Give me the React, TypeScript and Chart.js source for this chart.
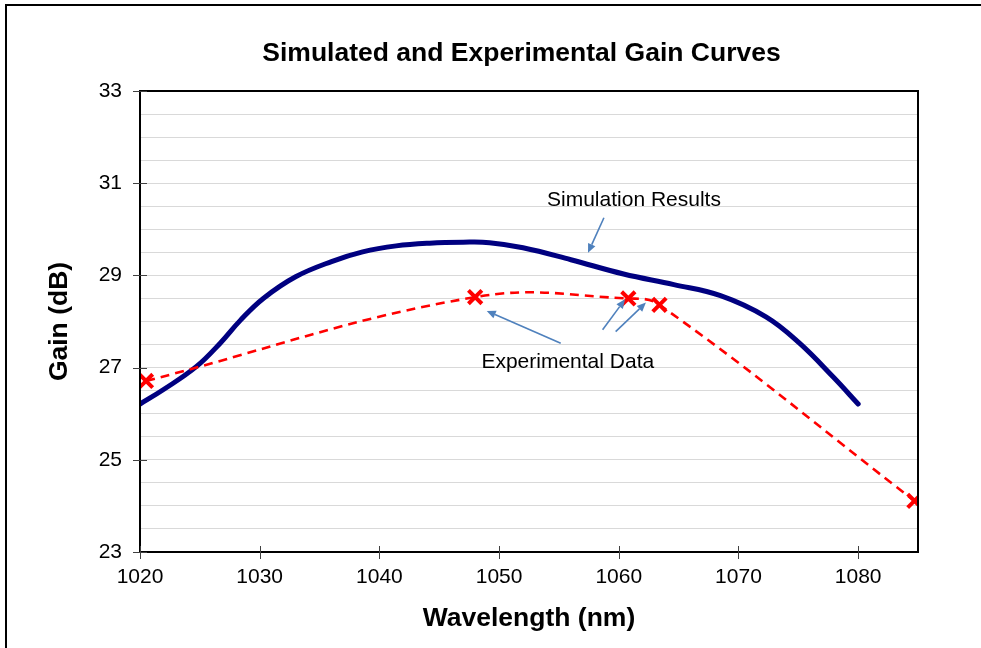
import React, { useEffect, useRef } from "react";
import { Chart, registerables } from "chart.js";

Chart.register(...registerables);

// ---- data ----
const simWavelength = [1020, 1022, 1024.7, 1026.7, 1028.4, 1030.3, 1033, 1036, 1038.6, 1041.4, 1044.2, 1047, 1049.2, 1052, 1056, 1060.4, 1064.6, 1068.5, 1072.3, 1075.1, 1077.9, 1080];
const simGain = [26.21, 26.53, 27.02, 27.53, 28.03, 28.5, 28.97, 29.3, 29.51, 29.64, 29.7, 29.72, 29.71, 29.6, 29.34, 29.03, 28.8, 28.56, 28.1, 27.53, 26.8, 26.21];

const expWavelength = [1020.5, 1048.0, 1060.8, 1063.4, 1084.7];
const expGain = [26.71, 28.53, 28.5, 28.36, 24.11];

const xTickValues = [1020, 1030, 1040, 1050, 1060, 1070, 1080];
const yLabelValues = [23, 25, 27, 29, 31, 33];

const titleText = "Simulated and Experimental Gain Curves";
const xTitleText = "Wavelength (nm)";
const yTitleText = "Gain (dB)";

// annotation texts (anchor = baseline centre, data units)
const annotationTexts = ["Simulation Results", "Experimental Data"];
const annotationX = [1061.27, 1055.74];
const annotationY = [30.505, 26.985];

// arrows (data units): from -> to
const arrowFromX = [1058.76, 1055.15, 1058.65, 1059.74];
const arrowFromY = [30.25, 27.53, 27.82, 27.78];
const arrowToX = [1057.43, 1048.97, 1060.52, 1062.27];
const arrowToY = [29.49, 28.23, 28.48, 28.41];

const FONT = "'Liberation Sans', Arial, Helvetica, sans-serif";

const decorPlugin = {
  id: "decor",
  afterDatasetsDraw(chart: any) {
    const { ctx, chartArea, scales } = chart;
    const xs = scales.x;
    const ys = scales.y;
    const { left, right, top, bottom } = chartArea;
    ctx.save();

    // plot frame
    ctx.strokeStyle = "#000000";
    ctx.lineWidth = 2;
    ctx.strokeRect(left, top, right - left, bottom - top);

    // crossing tick marks
    ctx.lineWidth = 1;
    ctx.strokeStyle = "#404040";
    ctx.beginPath();
    yLabelValues.forEach((v) => {
      const py = Math.round(ys.getPixelForValue(v)) + 0.5;
      ctx.moveTo(left - 7, py);
      ctx.lineTo(left + 7, py);
    });
    xTickValues.forEach((v) => {
      const px = Math.round(xs.getPixelForValue(v)) + 0.5;
      ctx.moveTo(px, bottom - 6);
      ctx.lineTo(px, bottom + 7);
    });
    ctx.stroke();

    // arrows
    ctx.strokeStyle = "#4f81bd";
    ctx.fillStyle = "#4f81bd";
    ctx.lineWidth = 1.6;
    for (let i = 0; i < arrowFromX.length; i++) {
      const x1 = xs.getPixelForValue(arrowFromX[i]);
      const y1 = ys.getPixelForValue(arrowFromY[i]);
      const x2 = xs.getPixelForValue(arrowToX[i]);
      const y2 = ys.getPixelForValue(arrowToY[i]);
      const ang = Math.atan2(y2 - y1, x2 - x1);
      const hl = 9;
      const hw = 4;
      const bx = x2 - hl * Math.cos(ang);
      const by = y2 - hl * Math.sin(ang);
      ctx.beginPath();
      ctx.moveTo(x1, y1);
      ctx.lineTo(bx, by);
      ctx.stroke();
      ctx.beginPath();
      ctx.moveTo(x2, y2);
      ctx.lineTo(bx + hw * Math.sin(ang), by - hw * Math.cos(ang));
      ctx.lineTo(bx - hw * Math.sin(ang), by + hw * Math.cos(ang));
      ctx.closePath();
      ctx.fill();
    }

    // annotation texts
    ctx.fillStyle = "#000000";
    ctx.font = `21px ${FONT}`;
    ctx.textAlign = "center";
    ctx.textBaseline = "alphabetic";
    annotationTexts.forEach((t, i) => {
      ctx.fillText(t, xs.getPixelForValue(annotationX[i]), ys.getPixelForValue(annotationY[i]));
    });

    // chart title
    ctx.font = `bold 26.5px ${FONT}`;
    ctx.fillText(titleText, 521.5, 61);

    // outer border
    ctx.fillStyle = "#000000";
    ctx.fillRect(5, 4, 2, chart.height);
    ctx.fillRect(5, 4, chart.width, 2);
    ctx.restore();
  },
};

export default function App() {
  const canvasRef = useRef<HTMLCanvasElement | null>(null);

  useEffect(() => {
    const canvas = canvasRef.current;
    if (!canvas) return;
    const chart = new Chart(canvas, {
      type: "scatter",
      data: {
        datasets: [
          {
            label: "Simulation Results",
            data: simWavelength.map((x, i) => ({ x, y: simGain[i] })),
            showLine: true,
            borderColor: "#000080",
            backgroundColor: "#000080",
            borderWidth: 5,
            pointRadius: 0,
            tension: 0.4,
            borderCapStyle: "round",
            order: 2,
          },
          {
            label: "Experimental Data",
            data: expWavelength.map((x, i) => ({ x, y: expGain[i] })),
            showLine: true,
            borderColor: "#ff0000",
            backgroundColor: "#ff0000",
            borderWidth: 2.6,
            borderDash: [9, 6],
            tension: 0.4,
            pointStyle: "crossRot",
            pointRadius: 9.5,
            pointBorderWidth: 4,
            pointBorderColor: "#ff0000",
            order: 1,
          },
        ],
      },
      options: {
        responsive: false,
        animation: false,
        devicePixelRatio: 1,
        layout: { padding: { top: 91, right: 63, bottom: 0, left: 0 } },
        plugins: {
          legend: { display: false },
          tooltip: { enabled: false },
          title: { display: false },
        },
        scales: {
          x: {
            type: "linear",
            min: 1020,
            max: 1085,
            afterFit: (s: any) => {
              s.height = 96;
            },
            afterBuildTicks: (s: any) => {
              s.ticks = xTickValues.map((v) => ({ value: v }));
            },
            grid: { display: false, drawTicks: false },
            border: { display: false },
            ticks: {
              autoSkip: false,
              maxRotation: 0,
              padding: 13,
              color: "#000000",
              font: { family: FONT, size: 21 },
              callback: (v: any) => String(v),
            },
            title: {
              display: true,
              text: xTitleText,
              color: "#000000",
              font: { family: FONT, size: 26.5, weight: "bold" },
              padding: { top: 0, bottom: 13 },
            },
          },
          y: {
            type: "linear",
            min: 23,
            max: 33,
            afterFit: (s: any) => {
              s.width = 140;
            },
            grid: { color: "#d9d9d9", lineWidth: 1, drawTicks: false },
            border: { display: false },
            ticks: {
              stepSize: 0.5,
              autoSkip: false,
              padding: 18,
              color: "#000000",
              font: { family: FONT, size: 21 },
              callback: (v: any) => (yLabelValues.includes(Number(v)) ? String(v) : ""),
            },
            title: {
              display: true,
              text: yTitleText,
              color: "#000000",
              font: { family: FONT, size: 26.5, weight: "bold" },
              padding: { top: 44, bottom: 0 },
            },
          },
        },
      },
      plugins: [decorPlugin],
    });
    return () => chart.destroy();
  }, []);

  return (
    <div style={{ position: "fixed", left: 0, top: 0, width: 981, height: 648, background: "#ffffff" }}>
      <canvas ref={canvasRef} width={981} height={648} style={{ display: "block" }} />
    </div>
  );
}
